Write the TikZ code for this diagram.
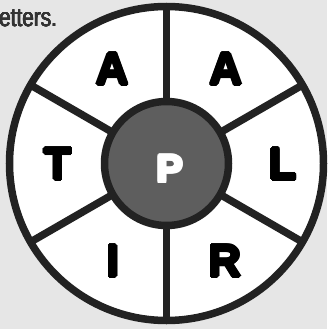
\documentclass[tikz,border=0pt]{standalone}
\usepackage{fontspec}
\usetikzlibrary{calc}
\setmainfont{Liberation Sans}
\newfontfamily\letterfont{Liberation Sans Bold}
\newfontfamily\capfont[FakeStretch=0.8]{Liberation Sans}
\newdimen\hvd
\newcommand\heavytext[2]{\leavevmode\hvd=#1\relax
 \rlap{\kern\hvd#2}\rlap{\kern-\hvd#2}%
 \rlap{\raisebox{\hvd}{#2}}\rlap{\raisebox{-\hvd}{#2}}%
 \rlap{\kern0.7\hvd\raisebox{0.7\hvd}{#2}}\rlap{\kern-0.7\hvd\raisebox{0.7\hvd}{#2}}%
 \rlap{\kern0.7\hvd\raisebox{-0.7\hvd}{#2}}\rlap{\kern-0.7\hvd\raisebox{-0.7\hvd}{#2}}#2}
\definecolor{bg}{HTML}{E6E6E6}
\definecolor{ink}{HTML}{222222}
\definecolor{hub}{HTML}{5E5E5E}
\definecolor{captxt}{HTML}{333333}
\begin{document}
\begin{tikzpicture}[x=1pt,y=-1pt,
  ring/.style={draw=ink,line width=7.5pt},
  spoke/.style={draw=ink,line width=7.5pt},
  letter/.style={font=\letterfont\fontsize{45}{45}\selectfont,text=black,inner sep=0pt},
  hubletter/.style={font=\letterfont\fontsize{39}{39}\selectfont,text=white,inner sep=0pt},
  caption/.style={font=\capfont\fontsize{26}{26}\selectfont,text=captxt,inner sep=0pt,anchor=base west}]
\fill[bg] (0,0) rectangle (327,329);
\useasboundingbox (0,0) rectangle (327,329);
\coordinate (c) at (166.5,163.5);
\node[caption] (cap) at (-1,26.5) {\heavytext{0.3pt}{etters.}};
\draw[ring,fill=white] (c) circle[radius=157];
\foreach \a in {90,30,-30,-90,-150,150}{
  \draw[spoke] ($(c)+(\a:62)$) -- ($(c)+(\a:157)$);
}
\draw[ring,fill=hub] (c) circle[radius=62];
\node[letter] (a1) at (112.5,69) {\heavytext{1.6pt}{A}};
\node[letter] (a2) at (226,69) {\heavytext{1.6pt}{A}};
\node[letter] (t) at (58,164) {\heavytext{1.6pt}{T}};
\node[letter] (l) at (283,164) {\heavytext{1.6pt}{L}};
\node[letter] (i) at (113,261) {\heavytext{1.6pt}{I}};
\node[letter] (r) at (225,261) {\heavytext{1.6pt}{R}};
\node[hubletter] (p) at (170,169) {\heavytext{1.5pt}{P}};
\end{tikzpicture}
\end{document}
